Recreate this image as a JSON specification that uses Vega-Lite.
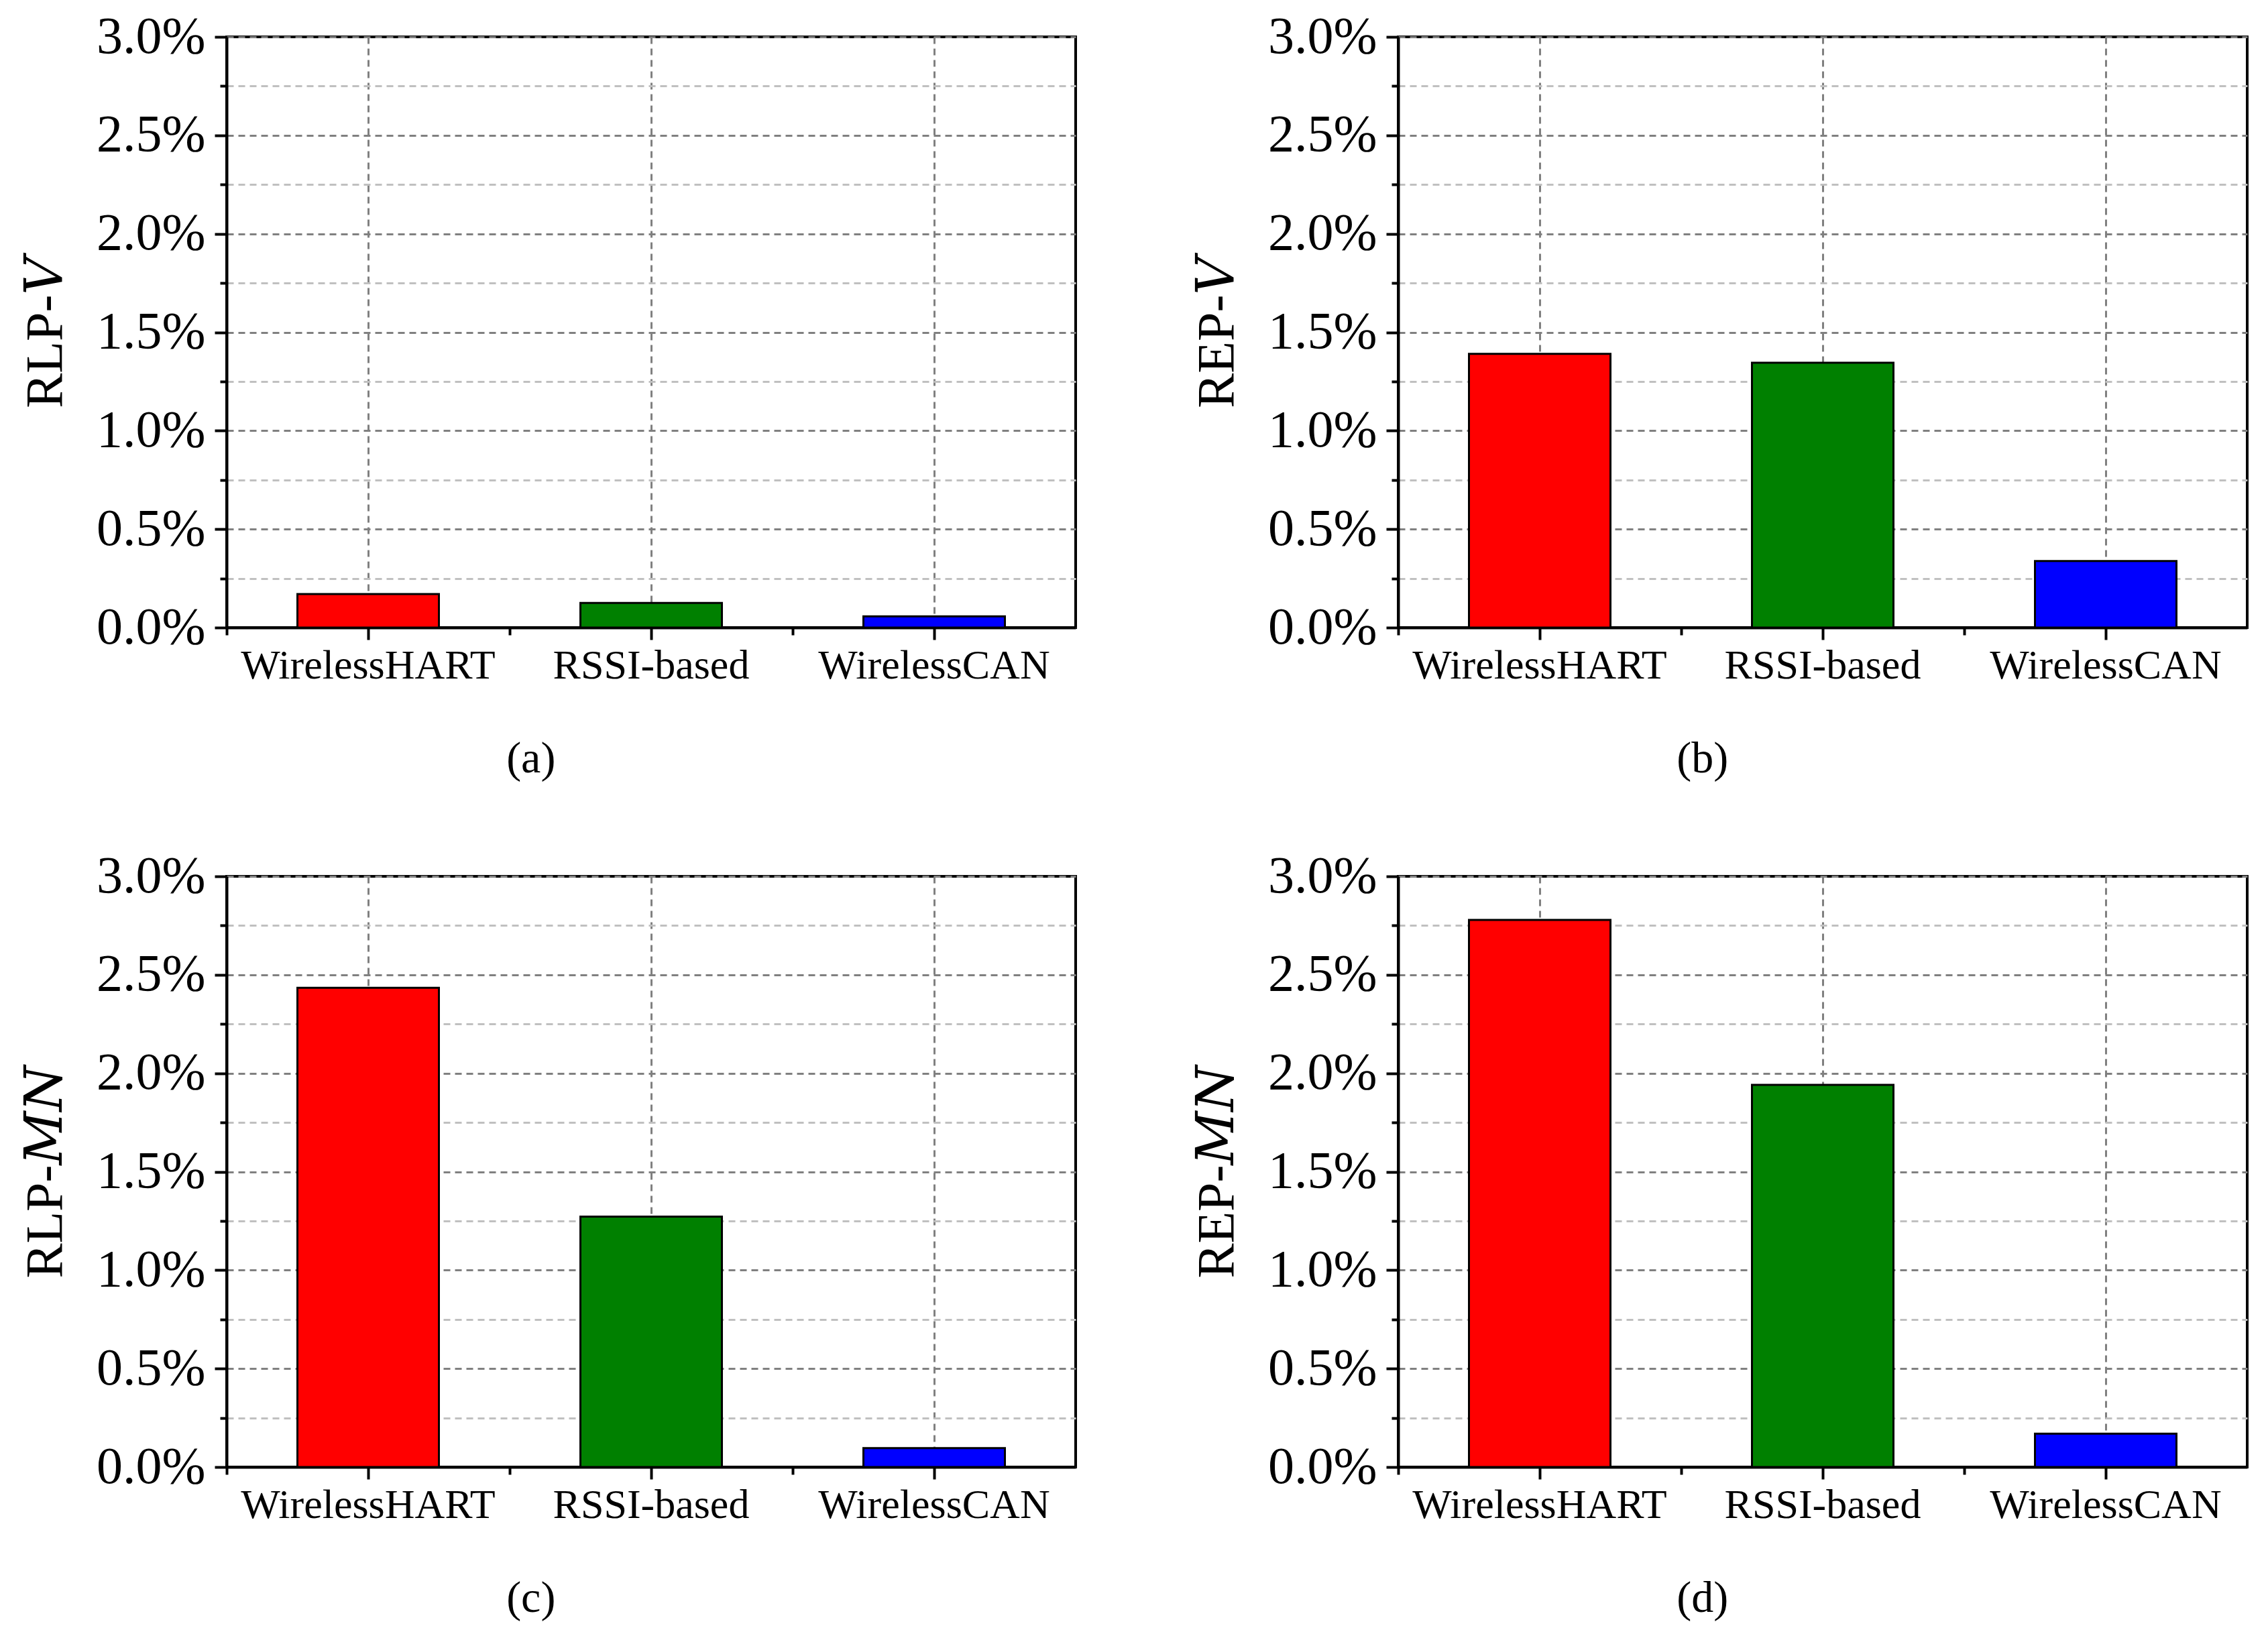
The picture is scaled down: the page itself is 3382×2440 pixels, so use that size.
{
  "$schema": "https://vega.github.io/schema/vega-lite/v6.json",
  "padding": {"left": 27, "top": 14, "right": 0, "bottom": 0},
  "background": "white",
  "datasets": {
    "errors": [
      {"panel": "a", "method": "WirelessHART", "value": 0.17},
      {"panel": "a", "method": "RSSI-based", "value": 0.125},
      {"panel": "a", "method": "WirelessCAN", "value": 0.057},
      {"panel": "b", "method": "WirelessHART", "value": 1.39},
      {"panel": "b", "method": "RSSI-based", "value": 1.345},
      {"panel": "b", "method": "WirelessCAN", "value": 0.338},
      {"panel": "c", "method": "WirelessHART", "value": 2.434},
      {"panel": "c", "method": "RSSI-based", "value": 1.272},
      {"panel": "c", "method": "WirelessCAN", "value": 0.096},
      {"panel": "d", "method": "WirelessHART", "value": 2.779},
      {"panel": "d", "method": "RSSI-based", "value": 1.941},
      {"panel": "d", "method": "WirelessCAN", "value": 0.169}
    ]
  },
  "columns": 2,
  "spacing": {"row": 99, "column": 168},
  "concat": [
    {
      "title": {"text": "(a)"},
      "width": 1266, "height": 881,
      "data": {"name": "errors"},
      "transform": [{"filter": "datum.panel == 'a'"}],
      "layer": [
        {
          "mark": {"type": "bar", "stroke": "black", "strokeWidth": 3},
          "encoding": {
            "x": {"field": "method", "type": "nominal", "sort": ["WirelessHART", "RSSI-based", "WirelessCAN"],
                  "scale": {"paddingInner": 0.5, "paddingOuter": 0.25}, "axis": {"title": null}},
            "y": {"field": "value", "type": "quantitative", "scale": {"domain": [0, 3], "nice": false},
                  "axis": {"title": "RLP-𝑉", "values": [0, 0.25, 0.5, 0.75, 1, 1.25, 1.5, 1.75, 2, 2.25, 2.5, 2.75, 3]}},
            "color": {"field": "method", "type": "nominal", "legend": null,
                      "scale": {"domain": ["WirelessHART", "RSSI-based", "WirelessCAN"], "range": ["#ff0000", "#008000", "#0000ff"]}}
          }
        },
        {
          "mark": {"type": "bar", "opacity": 0},
          "encoding": {
            "x": {"field": "method", "type": "nominal", "sort": ["WirelessHART", "RSSI-based", "WirelessCAN"],
                  "scale": {"paddingInner": 0.5, "paddingOuter": 0.25},
                  "axis": {"title": null, "orient": "bottom", "labels": false, "grid": false, "domain": false,
                           "bandPosition": 0, "tickOffset": -105.5, "tickSize": 11}}
          }
        }
      ],
      "resolve": {"scale": {"x": "independent"}, "axis": {"x": "independent"}}
    },
    {
      "title": {"text": "(b)"},
      "width": 1266, "height": 881,
      "data": {"name": "errors"},
      "transform": [{"filter": "datum.panel == 'b'"}],
      "layer": [
        {
          "mark": {"type": "bar", "stroke": "black", "strokeWidth": 3},
          "encoding": {
            "x": {"field": "method", "type": "nominal", "sort": ["WirelessHART", "RSSI-based", "WirelessCAN"],
                  "scale": {"paddingInner": 0.5, "paddingOuter": 0.25}, "axis": {"title": null}},
            "y": {"field": "value", "type": "quantitative", "scale": {"domain": [0, 3], "nice": false},
                  "axis": {"title": "REP-𝑉", "values": [0, 0.25, 0.5, 0.75, 1, 1.25, 1.5, 1.75, 2, 2.25, 2.5, 2.75, 3]}},
            "color": {"field": "method", "type": "nominal", "legend": null,
                      "scale": {"domain": ["WirelessHART", "RSSI-based", "WirelessCAN"], "range": ["#ff0000", "#008000", "#0000ff"]}}
          }
        },
        {
          "mark": {"type": "bar", "opacity": 0},
          "encoding": {
            "x": {"field": "method", "type": "nominal", "sort": ["WirelessHART", "RSSI-based", "WirelessCAN"],
                  "scale": {"paddingInner": 0.5, "paddingOuter": 0.25},
                  "axis": {"title": null, "orient": "bottom", "labels": false, "grid": false, "domain": false,
                           "bandPosition": 0, "tickOffset": -105.5, "tickSize": 11}}
          }
        }
      ],
      "resolve": {"scale": {"x": "independent"}, "axis": {"x": "independent"}}
    },
    {
      "title": {"text": "(c)"},
      "width": 1266, "height": 881,
      "data": {"name": "errors"},
      "transform": [{"filter": "datum.panel == 'c'"}],
      "layer": [
        {
          "mark": {"type": "bar", "stroke": "black", "strokeWidth": 3},
          "encoding": {
            "x": {"field": "method", "type": "nominal", "sort": ["WirelessHART", "RSSI-based", "WirelessCAN"],
                  "scale": {"paddingInner": 0.5, "paddingOuter": 0.25}, "axis": {"title": null}},
            "y": {"field": "value", "type": "quantitative", "scale": {"domain": [0, 3], "nice": false},
                  "axis": {"title": "RLP-𝑀𝑁", "values": [0, 0.25, 0.5, 0.75, 1, 1.25, 1.5, 1.75, 2, 2.25, 2.5, 2.75, 3]}},
            "color": {"field": "method", "type": "nominal", "legend": null,
                      "scale": {"domain": ["WirelessHART", "RSSI-based", "WirelessCAN"], "range": ["#ff0000", "#008000", "#0000ff"]}}
          }
        },
        {
          "mark": {"type": "bar", "opacity": 0},
          "encoding": {
            "x": {"field": "method", "type": "nominal", "sort": ["WirelessHART", "RSSI-based", "WirelessCAN"],
                  "scale": {"paddingInner": 0.5, "paddingOuter": 0.25},
                  "axis": {"title": null, "orient": "bottom", "labels": false, "grid": false, "domain": false,
                           "bandPosition": 0, "tickOffset": -105.5, "tickSize": 11}}
          }
        }
      ],
      "resolve": {"scale": {"x": "independent"}, "axis": {"x": "independent"}}
    },
    {
      "title": {"text": "(d)"},
      "width": 1266, "height": 881,
      "data": {"name": "errors"},
      "transform": [{"filter": "datum.panel == 'd'"}],
      "layer": [
        {
          "mark": {"type": "bar", "stroke": "black", "strokeWidth": 3},
          "encoding": {
            "x": {"field": "method", "type": "nominal", "sort": ["WirelessHART", "RSSI-based", "WirelessCAN"],
                  "scale": {"paddingInner": 0.5, "paddingOuter": 0.25}, "axis": {"title": null}},
            "y": {"field": "value", "type": "quantitative", "scale": {"domain": [0, 3], "nice": false},
                  "axis": {"title": "REP-𝑀𝑁", "values": [0, 0.25, 0.5, 0.75, 1, 1.25, 1.5, 1.75, 2, 2.25, 2.5, 2.75, 3]}},
            "color": {"field": "method", "type": "nominal", "legend": null,
                      "scale": {"domain": ["WirelessHART", "RSSI-based", "WirelessCAN"], "range": ["#ff0000", "#008000", "#0000ff"]}}
          }
        },
        {
          "mark": {"type": "bar", "opacity": 0},
          "encoding": {
            "x": {"field": "method", "type": "nominal", "sort": ["WirelessHART", "RSSI-based", "WirelessCAN"],
                  "scale": {"paddingInner": 0.5, "paddingOuter": 0.25},
                  "axis": {"title": null, "orient": "bottom", "labels": false, "grid": false, "domain": false,
                           "bandPosition": 0, "tickOffset": -105.5, "tickSize": 11}}
          }
        }
      ],
      "resolve": {"scale": {"x": "independent"}, "axis": {"x": "independent"}}
    }
  ],
  "config": {
    "font": "Liberation Serif",
    "view": {"stroke": "black", "strokeWidth": 4},
    "title": {"orient": "bottom", "frame": "bounds", "anchor": "middle", "fontSize": 66, "fontWeight": "normal",
              "font": "Liberation Serif", "color": "black", "offset": 77, "dx": -25},
    "axis": {
      "domainColor": "black", "domainWidth": 4, "tickColor": "black", "tickWidth": 4,
      "labelFont": "Liberation Serif", "labelColor": "black", "titleFont": "Liberation Serif, DejaVu Serif, serif", "titleColor": "black",
      "titleFontWeight": "normal", "labelLimit": 0
    },
    "axisX": {
      "labelFontSize": 62, "labelPadding": 8, "tickSize": 18, "labelAngle": 0,
      "grid": true, "gridColor": "#808080", "gridWidth": 3, "gridDash": [10, 7]
    },
    "axisY": {
      "labelExpr": "round(datum.value * 100) % 50 == 0 ? format(datum.value, '.1f') + '%' : ''",
      "labelFontSize": 78, "labelPadding": 14, "labelBaseline": "middle",
      "tickSize": {"condition": {"test": "round(datum.value * 100) % 50 == 0", "value": 18}, "value": 10},
      "grid": true, "gridWidth": 3, "gridDash": [10, 7],
      "gridColor": {"condition": {"test": "round(datum.value * 100) % 50 == 0", "value": "#808080"}, "value": "#c0c0c0"},
      "titleFontSize": 78, "titlePadding": 36
    }
  }
}
